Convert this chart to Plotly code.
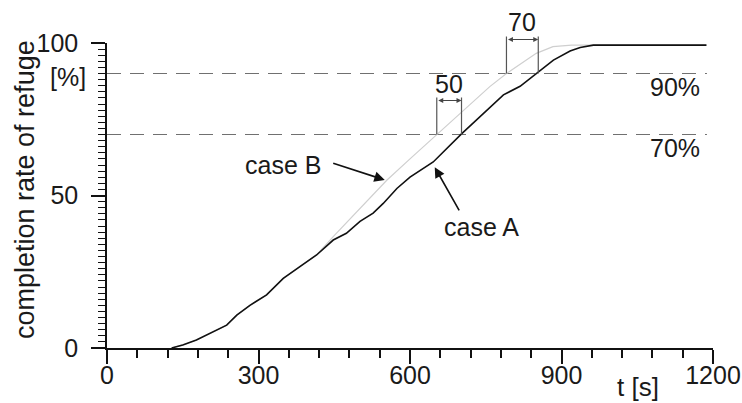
import plotly.graph_objects as go

# ---------------- data ----------------
t_case_a = [128, 150, 177, 204, 237, 257, 283, 316, 349, 382, 415, 448, 474, 501, 527,
            547, 574, 600, 646, 702, 732, 765, 785, 818, 854, 884, 917, 937, 963, 1187]
v_case_a = [0, 1, 2.6, 4.8, 7.5, 10.8, 14, 17.4, 22.8, 26.7, 30.5, 35.4, 37.6, 41.5, 44.2,
            47.4, 52.3, 56, 61, 70.2, 74.8, 79.7, 83, 85.8, 90.5, 94.4, 97.4, 98.5, 99.3, 99.3]

t_case_b = [128, 150, 177, 204, 237, 257, 283, 316, 349, 382, 415, 448, 500, 554, 600,
            653, 700, 758, 791, 850, 883, 920, 1187]
v_case_b = [0, 1, 2.6, 4.8, 7.5, 10.8, 14, 17.4, 22.8, 26.7, 30.5, 36.5, 45.5, 55, 62,
            70, 77, 85.7, 90, 96.6, 98.8, 99.3, 99.3]

threshold_levels = [70, 90]
threshold_labels = ["70%", "90%"]
threshold_span = [0, 1188]

# time gaps between case B and case A at 70% and 90%
gap_labels = ["50", "70"]
gap_t_start = [653, 791]
gap_t_end = [702, 854]
gap_level = [70, 90]

x_ticks = [0, 300, 600, 900, 1200]
y_ticks = [0, 50, 100]
X_RANGE = [0, 1200]
Y_RANGE = [0, 100]

# ---------------- layout geometry ----------------
W, H = 742, 403
ML, MR, MT, MB = 107, 29, 43, 55
PW, PH = W - ML - MR, H - MT - MB
FONT = "Liberation Sans, Arial, sans-serif"
TXT = "#1a1a1a"
FS = 25


def px_x(px):
    return (px - ML) / PW


def px_y(py):
    return (H - MB - py) / PH


def t_paper(t):
    return (t - X_RANGE[0]) / (X_RANGE[1] - X_RANGE[0])


def v_paper(v):
    return (v - Y_RANGE[0]) / (Y_RANGE[1] - Y_RANGE[0])


fig = go.Figure()

for lvl in threshold_levels:
    fig.add_trace(go.Scatter(x=threshold_span, y=[lvl, lvl], mode="lines",
                             line=dict(color="#707070", width=1.2, dash="14px,9px"),
                             hoverinfo="skip", showlegend=False))

fig.add_trace(go.Scatter(x=t_case_b, y=v_case_b, mode="lines", name="case B",
                         line=dict(color="#cfcfcf", width=1.2), showlegend=False))
fig.add_trace(go.Scatter(x=t_case_a, y=v_case_a, mode="lines", name="case A",
                         line=dict(color="#111111", width=1.6), showlegend=False))

annotations = []
shapes = []


def label(xp, yp, text, size=FS, xanchor="center", angle=0):
    annotations.append(dict(x=px_x(xp), y=px_y(yp), xref="paper", yref="paper", text=text,
                            showarrow=False, xanchor=xanchor, yanchor="middle",
                            textangle=angle, font=dict(size=size, color=TXT, family=FONT)))


# threshold labels
for lvl, lab in zip(threshold_levels, threshold_labels):
    annotations.append(dict(x=px_x(702), y=v_paper(lvl) - 13 / PH, xref="paper", yref="paper",
                            text=lab, showarrow=False, xanchor="right", yanchor="middle",
                            font=dict(size=FS, color=TXT, family=FONT)))

# gap brackets
bracket_top_offset = 37  # px above the level line
for lab, t1, t2, lvl in zip(gap_labels, gap_t_start, gap_t_end, gap_level):
    y0 = v_paper(lvl)
    y1 = y0 + bracket_top_offset / PH
    for tt in (t1, t2):
        shapes.append(dict(type="line", xref="paper", yref="paper",
                           x0=t_paper(tt), x1=t_paper(tt), y0=y0, y1=y1,
                           line=dict(color="#555555", width=1.2)))
    ya = y1 - 3 / PH
    annotations.append(dict(x=t_paper(t2), y=ya, xref="paper", yref="paper",
                            ax=-(t2 - t1) * PW / (X_RANGE[1] - X_RANGE[0]), ay=0,
                            axref="pixel", ayref="pixel", text="", showarrow=True,
                            arrowside="end+start", arrowhead=2, arrowsize=1.0,
                            arrowwidth=1, arrowcolor="#444444"))
    annotations.append(dict(x=t_paper((t1 + t2) / 2), y=y1 + 14 / PH, xref="paper", yref="paper",
                            text=lab, showarrow=False, xanchor="center", yanchor="middle",
                            font=dict(size=FS, color=TXT, family=FONT)))

# case labels with arrows
annotations.append(dict(x=550, y=55.1, ax=445, ay=60.7, xref="x", yref="y", axref="x", ayref="y",
                        text="", showarrow=True, arrowhead=2, arrowsize=1.3, arrowwidth=1.6,
                        arrowcolor="#111111"))
label(283, 165, "case B")
annotations.append(dict(x=649, y=59.3, ax=699, ay=44.6, xref="x", yref="y", axref="x", ayref="y",
                        text="", showarrow=True, arrowhead=2, arrowsize=1.3, arrowwidth=1.6,
                        arrowcolor="#111111"))
label(481, 227, "case A")

# axis titles / units
label(88, 77, "[%]", xanchor="right")
label(25, 190, "completion rate of refuge", size=27, angle=-90)
label(638, 387, "t [s]", size=26)

fig.update_layout(
    width=W, height=H,
    margin=dict(l=ML, r=MR, t=MT, b=MB, pad=0, autoexpand=False),
    paper_bgcolor="white", plot_bgcolor="white",
    font=dict(family=FONT, color=TXT, size=FS),
    showlegend=False,
    annotations=annotations,
    shapes=shapes,
    xaxis=dict(range=X_RANGE, tickvals=x_ticks, ticks="outside", ticklen=14, tickwidth=1.5,
               tickcolor="#111111", showline=True, linecolor="#111111", linewidth=1.5,
               showgrid=False, zeroline=False, automargin=False, ticklabelstandoff=-10,
               tickfont=dict(size=FS, color=TXT, family=FONT),
               minor=dict(dtick=60, tick0=0, ticks="outside", ticklen=8, tickwidth=1.5,
                          tickcolor="#111111", showgrid=False)),
    yaxis=dict(range=Y_RANGE, tickvals=y_ticks, ticks="outside", ticklen=14, tickwidth=1.5,
               tickcolor="#111111", showline=True, linecolor="#111111", linewidth=1.5,
               showgrid=False, zeroline=False, automargin=False, ticklabelstandoff=8,
               tickfont=dict(size=FS, color=TXT, family=FONT),
               minor=dict(dtick=2, tick0=0, ticks="outside", ticklen=7, tickwidth=1.2,
                          tickcolor="#111111", showgrid=False)),
)

fig.write_html("out.html")
